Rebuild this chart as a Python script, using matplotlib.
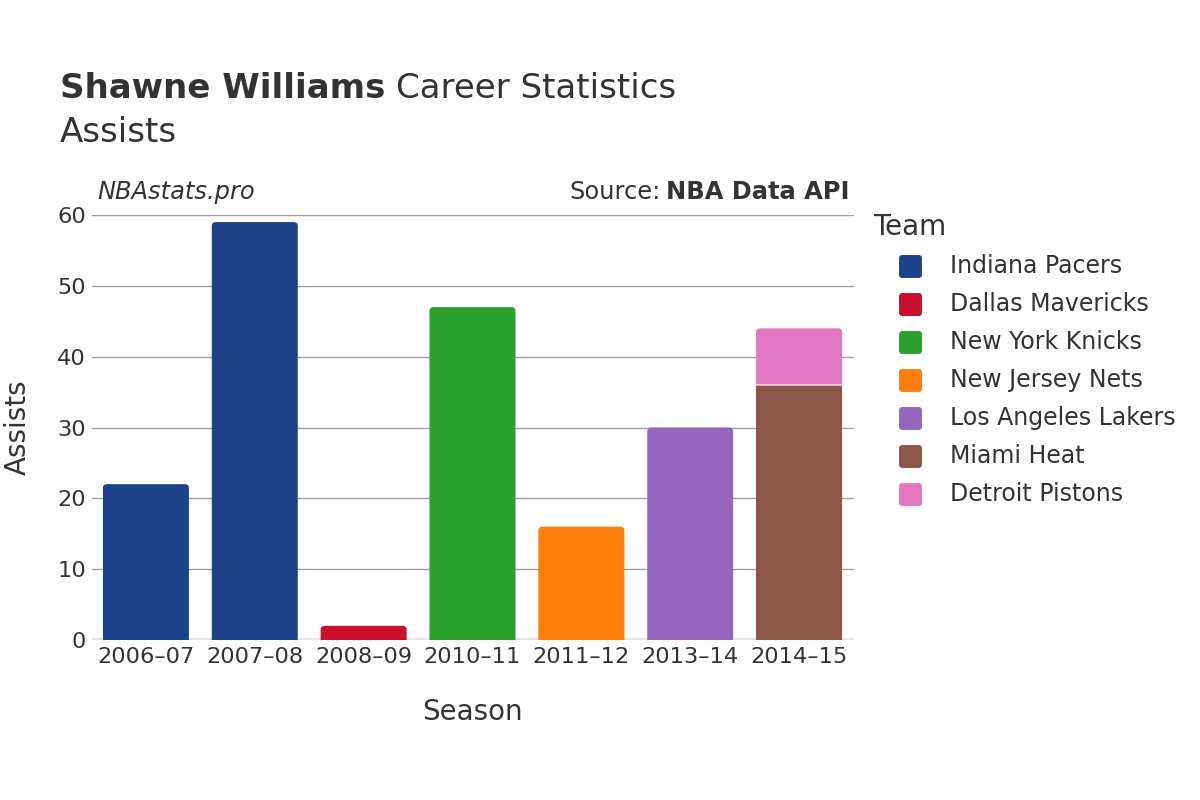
import matplotlib
matplotlib.use("Agg")
import matplotlib.pyplot as plt
from matplotlib.patches import FancyBboxPatch, PathPatch
from matplotlib.path import Path
from matplotlib.lines import Line2D

plt.rcParams['font.family'] = ['DejaVu Sans']

seasons = ["2006–07", "2007–08", "2008–09", "2010–11", "2011–12", "2013–14", "2014–15"]
teams = ["Indiana Pacers", "Dallas Mavericks", "New York Knicks", "New Jersey Nets",
         "Los Angeles Lakers", "Miami Heat", "Detroit Pistons"]
colors = ["#1d428a", "#c8102e", "#2ca02c", "#ff7f0e", "#9467bd", "#8c564b", "#e377c2"]
# (season index, team index, assists) in stacking order
segments_season = [0, 1, 2, 3, 4, 5, 6, 6]
segments_team = [0, 0, 1, 2, 3, 4, 5, 6]
segments_value = [22, 59, 2, 47, 16, 30, 36, 8]

TXT = "#333333"
W, H = 1200, 800
fig = plt.figure(figsize=(W / 100, H / 100), dpi=100)
ax_l, ax_r, ax_t, ax_b = 91.5, 853.5, 215, 640
ax = fig.add_axes([ax_l / W, 1 - ax_b / H, (ax_r - ax_l) / W, (ax_b - ax_t) / H])
ax.set_xlim(-0.5, len(seasons) - 0.5)
ax.set_ylim(0, 60)

bar_w = 0.79
px_x = (ax_r - ax_l) / len(seasons)
px_y = (ax_b - ax_t) / 60.0
rx = 4.0 / px_x
ry_full = 4.0 / px_y


def bar_path(x0, x1, b, top, rounded):
    if not rounded:
        verts = [(x0, b), (x1, b), (x1, top), (x0, top), (x0, b)]
        codes = [Path.MOVETO, Path.LINETO, Path.LINETO, Path.LINETO, Path.CLOSEPOLY]
        return Path(verts, codes)
    ry = min(ry_full, (top - b))
    verts = [(x0, b), (x1, b), (x1, top - ry), (x1, top), (x1 - rx, top),
             (x0 + rx, top), (x0, top), (x0, top - ry), (x0, b)]
    codes = [Path.MOVETO, Path.LINETO, Path.LINETO, Path.CURVE3, Path.CURVE3,
             Path.LINETO, Path.CURVE3, Path.CURVE3, Path.CLOSEPOLY]
    return Path(verts, codes)


bottoms = [0.0] * len(seasons)
n_in_season = {}
for s in segments_season:
    n_in_season[s] = n_in_season.get(s, 0) + 1
count = {}
for s, t, v in zip(segments_season, segments_team, segments_value):
    count[s] = count.get(s, 0) + 1
    top_seg = count[s] == n_in_season[s]
    b = bottoms[s]
    x0 = s - bar_w / 2
    ax.add_patch(PathPatch(bar_path(x0, x0 + bar_w, b, b + v, top_seg),
                           facecolor=colors[t], edgecolor="none", zorder=3))
    if b > 0:
        ax.plot([x0, x0 + bar_w], [b, b], color="white", lw=1.2, alpha=0.7, zorder=4)
    bottoms[s] += v

ax.set_yticks(range(0, 61, 10))
ax.set_xticks(range(len(seasons)))
ax.set_xticklabels(seasons)
ax.grid(axis="y", color="#a0a0a0", lw=1, zorder=0)
ax.axhline(0, color="#e6e6e6", lw=3, zorder=2)
for sp in ax.spines.values():
    sp.set_visible(False)
ax.tick_params(length=0, labelsize=16.2, colors=TXT, pad=5)
ax.tick_params(axis="y", pad=4)
ax.set_xlabel("Season", fontsize=20, color=TXT, labelpad=22)
ax.set_ylabel("Assists", fontsize=20, color=TXT, labelpad=18)

fig.text(60 / W, 1 - 89 / H, "Shawne Williams", fontsize=24.5, fontweight="bold",
         color=TXT, va="center", ha="left")
fig.text(396 / W, 1 - 89 / H, "Career Statistics", fontsize=24.5, color=TXT,
         va="center", ha="left")
fig.text(60 / W, 1 - 132 / H, "Assists", fontsize=24.5, color=TXT, va="center", ha="left")
fig.text(97 / W, 1 - 192 / H, "NBAstats.pro", fontsize=17.4, style="italic",
         color=TXT, va="center", ha="left")
src_b = fig.text(850 / W, 1 - 192 / H, "NBA Data API", fontsize=17.4, fontweight="bold",
                 color=TXT, va="center", ha="right")
fig.canvas.draw()
bw = src_b.get_window_extent().width
fig.text((850 - bw - 6) / W, 1 - 192 / H, "Source:", fontsize=17.4,
         color=TXT, va="center", ha="right")

# legend
bb = FancyBboxPatch((-0.35, -0.35), 0.7, 0.7, boxstyle="round,pad=0.15")
marker_path = bb.get_path()
fig.text(873 / W, 1 - 227 / H, "Team", fontsize=20, color=TXT, va="center", ha="left")
for i, (team, c) in enumerate(zip(teams, colors)):
    yc = 266 + 38 * i
    fig.add_artist(Line2D([910 / W], [1 - yc / H], marker=marker_path, markersize=16.5,
                          markerfacecolor=c, markeredgecolor="none", linestyle="none",
                          transform=fig.transFigure))
    fig.text(950 / W, 1 - yc / H, team, fontsize=17, color=TXT, va="center", ha="left")

fig.savefig("out.png", dpi=100)
